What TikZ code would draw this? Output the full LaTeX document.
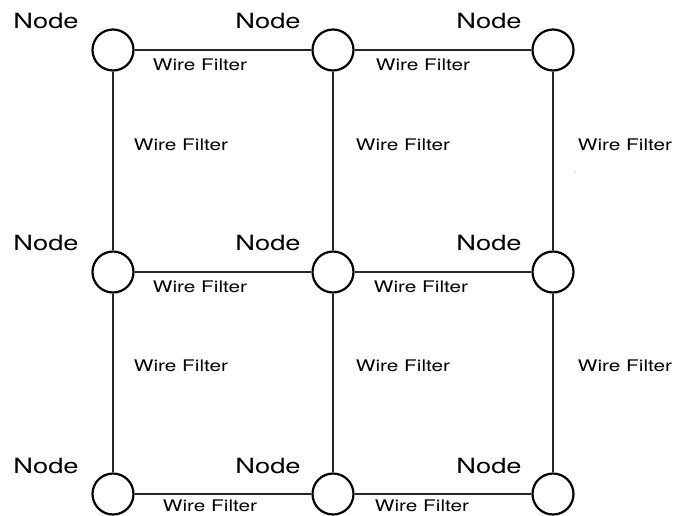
\documentclass[tikz,border=0pt]{standalone}
\usepackage{fontspec}
\setmainfont[FakeStretch=1.3]{TeX Gyre Heros}
\begin{document}
\begin{tikzpicture}[x=1pt,y=-1pt,
  hub/.style={circle,draw=black,line width=2.2pt,minimum size=41pt,inner sep=0pt},
  wire/.style={draw=black!85,line width=1.2pt},
  nlabel/.style={font=\fontsize{21}{24}\selectfont,inner sep=0pt,anchor=center},
  wlabel/.style={font=\fontsize{16}{19}\selectfont,inner sep=0pt,anchor=center}]
\useasboundingbox (0,0) rectangle (674,515);
% hubs
\node[hub] (a1) at (113,50) {};
\node[hub] (a2) at (333,50) {};
\node[hub] (a3) at (553,50) {};
\node[hub] (b1) at (113,272) {};
\node[hub] (b2) at (333,272) {};
\node[hub] (b3) at (553,272) {};
\node[hub] (c1) at (113,494) {};
\node[hub] (c2) at (333,494) {};
\node[hub] (c3) at (553,494) {};
% wires
\draw[wire] (a1) -- (a2);
\draw[wire] (a2) -- (a3);
\draw[wire] (b1) -- (b2);
\draw[wire] (b2) -- (b3);
\draw[wire] (c1) -- (c2);
\draw[wire] (c2) -- (c3);
\draw[wire] (a1) -- (b1);
\draw[wire] (b1) -- (c1);
\draw[wire] (a2) -- (b2);
\draw[wire] (b2) -- (c2);
\draw[wire] (a3) -- (b3);
\draw[wire] (b3) -- (c3);
% node labels
\node[nlabel] (la1) at (46,21) {Node};
\node[nlabel] (la2) at (268,21) {Node};
\node[nlabel] (la3) at (489,21) {Node};
\node[nlabel] (lb1) at (46,243) {Node};
\node[nlabel] (lb2) at (268,243) {Node};
\node[nlabel] (lb3) at (489,243) {Node};
\node[nlabel] (lc1) at (46,466) {Node};
\node[nlabel] (lc2) at (268,466) {Node};
\node[nlabel] (lc3) at (489,466) {Node};
% wire labels, horizontal
\node[wlabel] (h1) at (200,65) {Wire Filter};
\node[wlabel] (h2) at (423,65) {Wire Filter};
\node[wlabel] (h3) at (200,287) {Wire Filter};
\node[wlabel] (h4) at (421,287) {Wire Filter};
\node[wlabel] (h5) at (210,506) {Wire Filter};
\node[wlabel] (h6) at (422,506) {Wire Filter};
% wire labels, vertical
\node[wlabel] (v1) at (181,145) {Wire Filter};
\node[wlabel] (v2) at (403,145) {Wire Filter};
\node[wlabel] (v3) at (625,145) {Wire Filter};
\node[wlabel] (v4) at (181,366) {Wire Filter};
\node[wlabel] (v5) at (403,366) {Wire Filter};
\node[wlabel] (v6) at (625,366) {Wire Filter};
% stray dot
\fill[black!50] (575,172) circle (0.6pt);
\end{tikzpicture}
\end{document}
